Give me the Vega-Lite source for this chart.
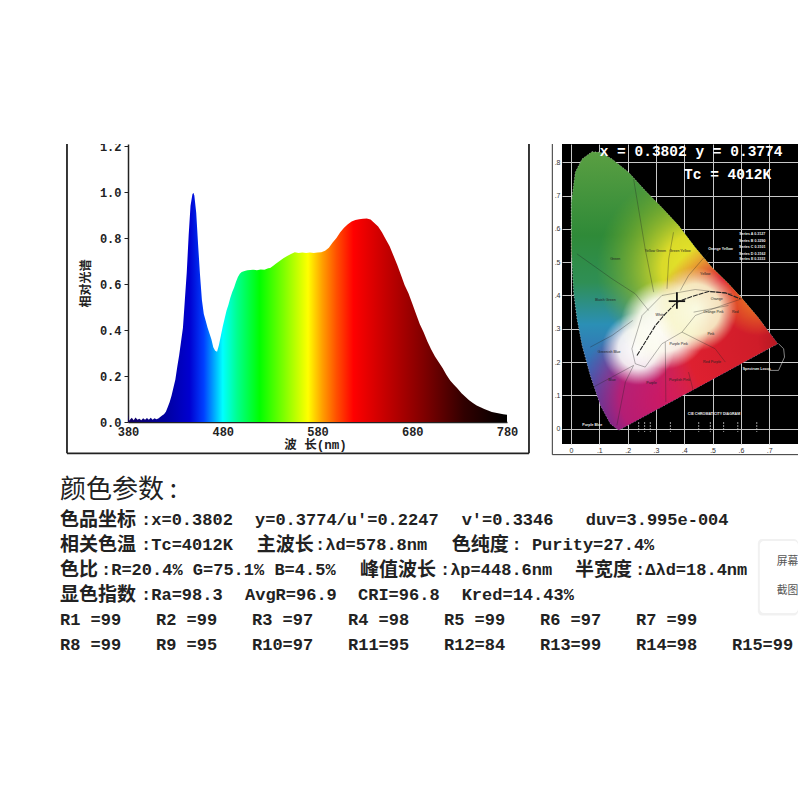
{"$schema":"https://vega.github.io/schema/vega-lite/v6.json","background":"#ffffff","padding":{"left":60,"top":138,"right":0,"bottom":0},"bounds":"flush","align":"each","columns":2,"spacing":{"column":55,"row":10},"config":{"view":{"stroke":null}},
"datasets":{"locus":[{"o":1,"x":0.074,"y":0.832},{"o":2,"x":0.104,"y":0.83},{"o":3,"x":0.145,"y":0.81},{"o":4,"x":0.2035,"y":0.77},{"o":5,"x":0.262,"y":0.715},{"o":6,"x":0.32,"y":0.665},{"o":7,"x":0.38,"y":0.61},{"o":8,"x":0.438,"y":0.545},{"o":9,"x":0.497,"y":0.485},{"o":10,"x":0.556,"y":0.435},{"o":11,"x":0.6,"y":0.395},{"o":12,"x":0.66,"y":0.335},{"o":13,"x":0.73,"y":0.255},{"o":14,"x":0.168,"y":-0.005},{"o":15,"x":0.139,"y":0.015},{"o":16,"x":0.104,"y":0.07},{"o":17,"x":0.068,"y":0.16},{"o":18,"x":0.039,"y":0.25},{"o":19,"x":0.021,"y":0.33},{"o":20,"x":0.009,"y":0.41},{"o":21,"x":0.001,"y":0.53},{"o":22,"x":0.001,"y":0.68},{"o":23,"x":0.015,"y":0.77},{"o":24,"x":0.039,"y":0.81},{"o":25,"x":0.074,"y":0.832}]},
"concat":[
{"width":379,"height":278,"layer":[
{"data":{"values":[{"w":380,"v":0.036},{"w":381,"v":0.005},{"w":384,"v":0.018},{"w":386,"v":0.008},{"w":388,"v":0.02},{"w":390,"v":0.01},{"w":392,"v":0.014},{"w":394,"v":0.008},{"w":396,"v":0.016},{"w":398,"v":0.01},{"w":400,"v":0.017},{"w":402,"v":0.01},{"w":404,"v":0.018},{"w":406,"v":0.01},{"w":408,"v":0.016},{"w":410,"v":0.012},{"w":412,"v":0.015},{"w":414,"v":0.022},{"w":416,"v":0.028},{"w":418,"v":0.034},{"w":420,"v":0.045},{"w":422,"v":0.065},{"w":424,"v":0.087},{"w":426,"v":0.115},{"w":428,"v":0.15},{"w":430,"v":0.185},{"w":432,"v":0.24},{"w":434,"v":0.29},{"w":436,"v":0.35},{"w":438,"v":0.41},{"w":440,"v":0.53},{"w":442,"v":0.65},{"w":444,"v":0.81},{"w":446,"v":0.94},{"w":448,"v":0.99},{"w":449,"v":0.997},{"w":450,"v":0.985},{"w":452,"v":0.91},{"w":454,"v":0.77},{"w":456,"v":0.64},{"w":458,"v":0.53},{"w":460,"v":0.47},{"w":462,"v":0.44},{"w":464,"v":0.41},{"w":466,"v":0.385},{"w":468,"v":0.36},{"w":470,"v":0.325},{"w":472,"v":0.31},{"w":474,"v":0.305},{"w":476,"v":0.335},{"w":478,"v":0.375},{"w":480,"v":0.415},{"w":482,"v":0.45},{"w":484,"v":0.485},{"w":486,"v":0.51},{"w":488,"v":0.54},{"w":490,"v":0.565},{"w":492,"v":0.585},{"w":494,"v":0.61},{"w":496,"v":0.63},{"w":498,"v":0.645},{"w":500,"v":0.652},{"w":503,"v":0.656},{"w":506,"v":0.66},{"w":509,"v":0.661},{"w":512,"v":0.662},{"w":516,"v":0.66},{"w":520,"v":0.663},{"w":524,"v":0.662},{"w":528,"v":0.668},{"w":530,"v":0.67},{"w":533,"v":0.678},{"w":536,"v":0.688},{"w":540,"v":0.7},{"w":544,"v":0.712},{"w":548,"v":0.722},{"w":552,"v":0.73},{"w":556,"v":0.738},{"w":560,"v":0.735},{"w":564,"v":0.737},{"w":568,"v":0.735},{"w":572,"v":0.737},{"w":576,"v":0.735},{"w":580,"v":0.737},{"w":584,"v":0.738},{"w":588,"v":0.745},{"w":592,"v":0.758},{"w":596,"v":0.78},{"w":600,"v":0.8},{"w":604,"v":0.825},{"w":608,"v":0.845},{"w":612,"v":0.86},{"w":616,"v":0.872},{"w":620,"v":0.878},{"w":624,"v":0.882},{"w":628,"v":0.884},{"w":632,"v":0.885},{"w":636,"v":0.88},{"w":640,"v":0.865},{"w":644,"v":0.85},{"w":648,"v":0.825},{"w":652,"v":0.795},{"w":656,"v":0.765},{"w":660,"v":0.725},{"w":664,"v":0.685},{"w":668,"v":0.64},{"w":672,"v":0.595},{"w":676,"v":0.56},{"w":680,"v":0.515},{"w":684,"v":0.47},{"w":688,"v":0.425},{"w":692,"v":0.39},{"w":696,"v":0.35},{"w":700,"v":0.315},{"w":704,"v":0.285},{"w":708,"v":0.26},{"w":712,"v":0.235},{"w":716,"v":0.205},{"w":720,"v":0.18},{"w":724,"v":0.162},{"w":728,"v":0.145},{"w":732,"v":0.125},{"w":736,"v":0.11},{"w":740,"v":0.095},{"w":744,"v":0.083},{"w":748,"v":0.072},{"w":752,"v":0.064},{"w":756,"v":0.056},{"w":760,"v":0.05},{"w":764,"v":0.044},{"w":768,"v":0.04},{"w":772,"v":0.037},{"w":776,"v":0.034},{"w":780,"v":0.032}]},
"mark":{"type":"area","interpolate":"linear","color":{"gradient":"linear","x1":0,"x2":1,"y1":0,"y2":0,"stops":[{"offset":0,"color":"#100060"},{"offset":0.1,"color":"#0000a0"},{"offset":0.1625,"color":"#0000d0"},{"offset":0.2,"color":"#0040ff"},{"offset":0.25,"color":"#00ffff"},{"offset":0.2875,"color":"#00ff90"},{"offset":0.3475,"color":"#00ff00"},{"offset":0.4125,"color":"#80ff00"},{"offset":0.475,"color":"#ffff00"},{"offset":0.5125,"color":"#ffa000"},{"offset":0.55,"color":"#ff5000"},{"offset":0.595,"color":"#ff0000"},{"offset":0.675,"color":"#c80000"},{"offset":0.78,"color":"#800000"},{"offset":0.8875,"color":"#300000"},{"offset":1,"color":"#000000"}]}},
"encoding":{"x":{"field":"w","type":"quantitative","scale":{"domain":[380,780],"nice":false,"zero":false},"axis":{"values":[380,480,580,680,780],"grid":false,"ticks":false,"labelFlush":false,"domainColor":"#222","domainWidth":1.5,"labelFont":"Liberation Mono","labelFontWeight":"bold","labelFontSize":12,"labelColor":"#222","labelPadding":4,"title":"波  长(nm)","titleFont":"Liberation Mono, Noto Sans CJK SC","titleFontSize":12.5,"titleFontWeight":"bold","titleColor":"#222","titlePadding":1,"titleX":187}},
"y":{"field":"v","type":"quantitative","scale":{"domain":[0,1.2087],"nice":false},"axis":{"values":[0,0.2,0.4,0.6,0.8,1,1.2],"format":".1f","grid":false,"tickSize":4,"tickColor":"#222","domainColor":"#222","domainWidth":1.5,"labelFont":"Liberation Mono","labelFontWeight":"bold","labelFontSize":12,"labelColor":"#222","labelPadding":3,"title":"相对光谱","titleFont":"Noto Sans CJK SC","titleFontSize":12,"titleFontWeight":"bold","titleColor":"#222","titlePadding":7}}}},
{"data":{"values":[{"a":315.6,"b":315.6,"c":-0.136,"d":1.2087},{"a":803.2,"b":803.2,"c":-0.136,"d":1.2087},{"a":315.6,"b":803.2,"c":-0.136,"d":-0.136}]},"mark":{"type":"rule","color":"#222","strokeWidth":1.8},"encoding":{"x":{"field":"a","type":"quantitative"},"x2":{"field":"b"},"y":{"field":"c","type":"quantitative"},"y2":{"field":"d"}}},
{"data":{"values":[{"a":350,"b":378,"c":1.2087,"d":1.232}]},"mark":{"type":"rect","fill":"#ffffff"},"encoding":{"x":{"field":"a","type":"quantitative"},"x2":{"field":"b"},"y":{"field":"c","type":"quantitative"},"y2":{"field":"d"}}}
]},
{"width":236,"height":300,"view":{"fill":"#000000","stroke":null},
"encoding":{"x":{"field":"x","type":"quantitative","scale":{"domain":[-0.0318,0.8016],"nice":false,"zero":false},"axis":{"values":[0,0.1,0.2,0.3,0.4,0.5,0.6,0.7],"labelFlush":false,"labelOverlap":false,"labelExpr":"datum.value==0?'0':replace(format(datum.value,'.1f'),'0.','.')","title":null,"grid":true,"gridColor":"#c8c8c8","gridWidth":1,"ticks":false,"domain":false,"labelFontSize":7,"labelColor":"#333","labelPadding":2,"labelFont":"Liberation Sans"}},
"y":{"field":"y","type":"quantitative","scale":{"domain":[-0.046,0.855],"nice":false,"zero":false},"axis":{"values":[0,0.1,0.2,0.3,0.4,0.5,0.6,0.7,0.8],"labelOverlap":false,"labelExpr":"datum.value==0?'0':replace(format(datum.value,'.1f'),'0.','.')","title":null,"grid":true,"gridColor":"#c8c8c8","gridWidth":1,"ticks":false,"domain":false,"labelFontSize":7,"labelColor":"#333","labelPadding":2,"labelFont":"Liberation Sans"}}},
"layer":[
{"data":{"name":"locus"},"mark":{"type":"line","strokeWidth":0.6,"stroke":"#cccccc","strokeDash":[1,2],"fill":{"gradient":"linear","x1":0,"x2":0,"y1":0,"y2":1,"stops":[{"offset":0,"color":"#5a9f42"},{"offset":0.3,"color":"#2f8a38"},{"offset":0.47,"color":"#2f8f55"},{"offset":0.62,"color":"#2b8fb5"},{"offset":0.78,"color":"#3868b5"},{"offset":1,"color":"#4a2f92"}]}},"encoding":{"order":{"field":"o"}}},
{"data":{"name":"locus"},"mark":{"type":"line","stroke":"transparent","fill":{"gradient":"radial","x1":0.58,"y1":0.42,"r1":0,"x2":0.58,"y2":0.42,"r2":0.36,"stops":[{"offset":0,"color":"rgba(238,232,40,1)"},{"offset":0.35,"color":"rgba(226,222,40,0.95)"},{"offset":0.7,"color":"rgba(150,185,40,0.55)"},{"offset":1,"color":"rgba(120,170,40,0)"}]}},"encoding":{"order":{"field":"o"}}},
{"data":{"name":"locus"},"mark":{"type":"line","stroke":"transparent","fill":{"gradient":"radial","x1":0.48,"y1":0.88,"r1":0,"x2":0.48,"y2":0.88,"r2":0.32,"stops":[{"offset":0,"color":"rgba(208,24,96,1)"},{"offset":0.55,"color":"rgba(200,24,110,0.85)"},{"offset":1,"color":"rgba(160,30,140,0)"}]}},"encoding":{"order":{"field":"o"}}},
{"data":{"name":"locus"},"mark":{"type":"line","stroke":"transparent","fill":{"gradient":"radial","x1":0.82,"y1":0.68,"r1":0,"x2":0.82,"y2":0.68,"r2":0.42,"stops":[{"offset":0,"color":"rgba(205,28,40,1)"},{"offset":0.65,"color":"rgba(222,32,48,1)"},{"offset":1,"color":"rgba(225,40,70,0)"}]}},"encoding":{"order":{"field":"o"}}},
{"data":{"name":"locus"},"mark":{"type":"line","stroke":"transparent","fill":{"gradient":"radial","x1":0.8,"y1":0.52,"r1":0,"x2":0.8,"y2":0.52,"r2":0.14,"stops":[{"offset":0,"color":"rgba(240,140,30,0.9)"},{"offset":1,"color":"rgba(240,160,30,0)"}]}},"encoding":{"order":{"field":"o"}}},
{"data":{"name":"locus"},"mark":{"type":"line","stroke":"transparent","fill":{"gradient":"radial","x1":1,"y1":0.68,"r1":0,"x2":1,"y2":0.68,"r2":0.2,"stops":[{"offset":0,"color":"rgba(130,15,20,0.95)"},{"offset":1,"color":"rgba(130,15,20,0)"}]}},"encoding":{"order":{"field":"o"}}},
{"data":{"name":"locus"},"mark":{"type":"line","stroke":"transparent","fill":{"gradient":"radial","x1":0.37,"y1":0.707,"r1":0,"x2":0.37,"y2":0.707,"r2":0.13,"stops":[{"offset":0,"color":"rgba(255,255,255,1)"},{"offset":0.55,"color":"rgba(250,252,250,0.9)"},{"offset":1,"color":"rgba(245,250,250,0)"}]}},"encoding":{"order":{"field":"o"}}},
{"data":{"name":"locus"},"mark":{"type":"line","stroke":"transparent","fill":{"gradient":"radial","x1":0.466,"y1":0.62,"r1":0,"x2":0.466,"y2":0.62,"r2":0.16,"stops":[{"offset":0,"color":"rgba(255,255,250,1)"},{"offset":0.6,"color":"rgba(252,252,240,0.92)"},{"offset":1,"color":"rgba(250,250,235,0)"}]}},"encoding":{"order":{"field":"o"}}},
{"data":{"name":"locus"},"mark":{"type":"line","stroke":"transparent","fill":{"gradient":"radial","x1":0.575,"y1":0.565,"r1":0,"x2":0.575,"y2":0.565,"r2":0.15,"stops":[{"offset":0,"color":"rgba(250,250,225,1)"},{"offset":0.6,"color":"rgba(248,246,205,0.9)"},{"offset":1,"color":"rgba(245,240,190,0)"}]}},"encoding":{"order":{"field":"o"}}},
{"data":{"values":[{"l":"b1","o":1,"x":0.021,"y":0.525},{"l":"b1","o":2,"x":0.145,"y":0.45},{"l":"b1","o":3,"x":0.227,"y":0.405},{"l":"b1","o":4,"x":0.274,"y":0.355},{"l":"b2","o":1,"x":0.068,"y":0.245},{"l":"b2","o":2,"x":0.145,"y":0.28},{"l":"b2","o":3,"x":0.218,"y":0.325},{"l":"b3","o":1,"x":0.215,"y":0.24},{"l":"b3","o":2,"x":0.251,"y":0.34},{"l":"b3","o":3,"x":0.321,"y":0.4},{"l":"b3","o":4,"x":0.439,"y":0.418},{"l":"b3","o":5,"x":0.568,"y":0.405},{"l":"b4","o":1,"x":0.215,"y":0.24},{"l":"b4","o":2,"x":0.227,"y":0.195},{"l":"b4","o":3,"x":0.262,"y":0.185},{"l":"b4","o":4,"x":0.321,"y":0.255},{"l":"b4","o":5,"x":0.392,"y":0.29},{"l":"b4","o":6,"x":0.439,"y":0.34},{"l":"b4","o":7,"x":0.533,"y":0.37},{"l":"b4","o":8,"x":0.603,"y":0.39},{"l":"b5","o":1,"x":0.362,"y":0.59},{"l":"b5","o":2,"x":0.345,"y":0.51},{"l":"b5","o":3,"x":0.339,"y":0.42},{"l":"b6","o":1,"x":0.486,"y":0.53},{"l":"b6","o":2,"x":0.415,"y":0.46},{"l":"b6","o":3,"x":0.386,"y":0.415},{"l":"b7","o":1,"x":0.221,"y":0.75},{"l":"b7","o":2,"x":0.262,"y":0.54},{"l":"b7","o":3,"x":0.292,"y":0.41},{"l":"b8","o":1,"x":0.221,"y":0.19},{"l":"b8","o":2,"x":0.192,"y":0.14},{"l":"b8","o":3,"x":0.162,"y":0.01},{"l":"b9","o":1,"x":0.333,"y":0.26},{"l":"b9","o":2,"x":0.335,"y":0.08},{"l":"b10","o":1,"x":0.415,"y":0.17},{"l":"b10","o":2,"x":0.433,"y":0.11},{"l":"b11","o":1,"x":0.392,"y":0.29},{"l":"b11","o":2,"x":0.509,"y":0.24},{"l":"b11","o":3,"x":0.545,"y":0.2},{"l":"b12","o":1,"x":0.433,"y":0.35},{"l":"b12","o":2,"x":0.556,"y":0.37},{"l":"b13","o":1,"x":0.068,"y":0.12},{"l":"b13","o":2,"x":0.221,"y":0.19}]},"mark":{"type":"line","stroke":"#222222","strokeWidth":0.6,"opacity":0.55},"encoding":{"detail":{"field":"l"},"order":{"field":"o"}}},
{"data":{"values":[{"o":1,"x":0.233,"y":0.22},{"o":2,"x":0.298,"y":0.31},{"o":3,"x":0.333,"y":0.345},{"o":4,"x":0.374,"y":0.38},{"o":5,"x":0.427,"y":0.397},{"o":6,"x":0.486,"y":0.412},{"o":7,"x":0.545,"y":0.408},{"o":8,"x":0.598,"y":0.39}]},"mark":{"type":"line","stroke":"#222222","strokeWidth":1.1,"strokeDash":[5,1]},"encoding":{"order":{"field":"o"}}},
{"data":{"values":[{"x":0.345,"x2":0.403,"y":0.383,"y2":0.383},{"x":0.374,"x2":0.374,"y":0.41,"y2":0.36}]},"mark":{"type":"rule","color":"#111111","strokeWidth":1.8},"encoding":{"x2":{"field":"x2"},"y2":{"field":"y2"}}},
{"data":{"values":[{"x":0.239,"y":0.02,"y2":-0.01},{"x":0.26,"y":0.02,"y2":-0.01},{"x":0.28,"y":0.02,"y2":-0.01},{"x":0.351,"y":0.02,"y2":-0.01},{"x":0.451,"y":0.02,"y2":-0.01},{"x":0.492,"y":0.02,"y2":-0.01},{"x":0.539,"y":0.02,"y2":-0.01},{"x":0.589,"y":0.02,"y2":-0.01},{"x":0.656,"y":0.02,"y2":-0.01}]},"mark":{"type":"rule","color":"#dddddd","strokeWidth":0.7,"strokeDash":[2,1]},"encoding":{"y2":{"field":"y2"}}},
{"data":{"values":[{"o":1,"x":0.733,"y":0.255},{"o":2,"x":0.751,"y":0.24},{"o":3,"x":0.754,"y":0.215},{"o":4,"x":0.733,"y":0.175},{"o":5,"x":0.698,"y":0.175}]},"mark":{"type":"line","stroke":"#dddddd","strokeWidth":0.6},"encoding":{"order":{"field":"o"}}},
{"data":{"values":[{"x":0.424,"y":0.83,"t":"x = 0.3802 y = 0.3774"},{"x":0.553,"y":0.762,"t":"Tc = 4012K"}]},"mark":{"type":"text","font":"Liberation Mono","fontWeight":"bold","fontSize":14.5,"color":"#ffffff"},"encoding":{"text":{"field":"t"}}},
{"data":{"values":[{"x":0.64,"y":0.585,"t":"Series A  0.3127"},{"x":0.64,"y":0.565,"t":"Series B  0.3290"},{"x":0.64,"y":0.545,"t":"Series C  0.3101"},{"x":0.64,"y":0.525,"t":"Series D  0.3162"},{"x":0.64,"y":0.51,"t":"Series E  0.3333"},{"x":0.505,"y":0.045,"t":"CIE CHROMATICITY DIAGRAM"},{"x":0.656,"y":0.18,"t":"Spectrum Locus"},{"x":0.528,"y":0.54,"t":"Orange Yellow"},{"x":0.075,"y":0.012,"t":"Purple Blue"}]},"mark":{"type":"text","fontSize":3.6,"font":"Liberation Sans","fontWeight":"bold","color":"#eeeeee"},"encoding":{"text":{"field":"t"}}},
{"data":{"values":[{"x":0.298,"y":0.533,"t":"Yellow Green"},{"x":0.385,"y":0.533,"t":"Green Yellow"},{"x":0.156,"y":0.51,"t":"Green"},{"x":0.121,"y":0.385,"t":"Bluish Green"},{"x":0.135,"y":0.23,"t":"Greenish Blue"},{"x":0.145,"y":0.147,"t":"Blue"},{"x":0.284,"y":0.138,"t":"Purple"},{"x":0.383,"y":0.145,"t":"Purplish Pink"},{"x":0.498,"y":0.2,"t":"Red Purple"},{"x":0.494,"y":0.285,"t":"Pink"},{"x":0.38,"y":0.255,"t":"Purple Pink"},{"x":0.503,"y":0.35,"t":"Orange Pink"},{"x":0.515,"y":0.39,"t":"Orange"},{"x":0.474,"y":0.465,"t":"Yellow"},{"x":0.58,"y":0.35,"t":"Red"},{"x":0.315,"y":0.34,"t":"White"}]},"mark":{"type":"text","fontSize":3.6,"font":"Liberation Sans","color":"#222222"},"encoding":{"text":{"field":"t"}}},
{"data":{"values":[{"x":-0.066,"x2":-0.066,"y":-0.078,"y2":0.855},{"x":-0.066,"x2":0.8016,"y":-0.078,"y2":-0.078}]},"mark":{"type":"rule","color":"#333333","strokeWidth":1},"encoding":{"x2":{"field":"x2"},"y2":{"field":"y2"}}}
]},
{"width":379,"height":345,"layer":[
{"data":{"values":[{"a":72.7,"b":76.875,"c":0.76,"d":3.82}]},"mark":{"type":"rect","fill":"#e8e8e8","opacity":0.6,"cornerRadius":4},"encoding":{"x":{"field":"a","type":"quantitative","scale":{"domain":[7.0833,46.5625],"nice":false,"zero":false},"axis":null},"x2":{"field":"b"},"y":{"field":"c","type":"quantitative","scale":{"domain":[11.16,-2.64],"nice":false,"zero":false},"axis":null},"y2":{"field":"d"}}},
{"data":{"values":[{"a":72.9,"b":76.875,"c":0.84,"d":3.72}]},"mark":{"type":"rect","fill":"#ffffff","cornerRadius":4},"encoding":{"x":{"field":"a","type":"quantitative"},"x2":{"field":"b"},"y":{"field":"c","type":"quantitative"},"y2":{"field":"d"}}},
{"data":{"values":[{"x":0,"y":-1.2,"t":"颜色参数 :"}]},"mark":{"type":"text","align":"left","baseline":"middle","font":"Noto Sans CJK SC","fontSize":26,"color":"#222222"},"encoding":{"x":{"field":"x","type":"quantitative"},"y":{"field":"y","type":"quantitative"},"text":{"field":"t"}}},
{"data":{"values":[{"x":0,"y":0,"t":"色品坐标"},{"x":0,"y":1,"t":"相关色温"},{"x":20.49,"y":1,"t":"主波长"},{"x":40.8,"y":1,"t":"色纯度"},{"x":0,"y":2,"t":"色比"},{"x":31.25,"y":2,"t":"峰值波长"},{"x":53.65,"y":2,"t":"半宽度"},{"x":0,"y":3,"t":"显色指数"}]},"mark":{"type":"text","align":"left","baseline":"middle","font":"Noto Sans CJK SC","fontWeight":"bold","fontSize":19,"color":"#222222"},"encoding":{"x":{"field":"x","type":"quantitative"},"y":{"field":"y","type":"quantitative"},"text":{"field":"t"}}},
{"data":{"values":[{"x":8.44,"y":0,"t":":x=0.3802"},{"x":20.31,"y":0,"t":"y=0.3774/u'=0.2247"},{"x":41.84,"y":0,"t":"v'=0.3346"},{"x":54.76,"y":0,"t":"duv=3.995e-004"},{"x":8.44,"y":1,"t":":Tc=4012K"},{"x":26.56,"y":1,"t":":λd=578.8nm"},{"x":47.03,"y":1,"t":": Purity=27.4%"},{"x":4.27,"y":2,"t":":R=20.4% G=75.1% B=4.5%"},{"x":39.58,"y":2,"t":":λp=448.6nm"},{"x":59.9,"y":2,"t":":Δλd=18.4nm"},{"x":8.44,"y":3,"t":":Ra=98.3"},{"x":19.27,"y":3,"t":"AvgR=96.9"},{"x":31.04,"y":3,"t":"CRI=96.8"},{"x":41.84,"y":3,"t":"Kred=14.43%"},{"x":0,"y":4,"t":"R1 =99"},{"x":10,"y":4,"t":"R2 =99"},{"x":20,"y":4,"t":"R3 =97"},{"x":30,"y":4,"t":"R4 =98"},{"x":40,"y":4,"t":"R5 =99"},{"x":50,"y":4,"t":"R6 =97"},{"x":60,"y":4,"t":"R7 =99"},{"x":0,"y":5,"t":"R8 =99"},{"x":10,"y":5,"t":"R9 =95"},{"x":20,"y":5,"t":"R10=97"},{"x":30,"y":5,"t":"R11=95"},{"x":40,"y":5,"t":"R12=84"},{"x":50,"y":5,"t":"R13=99"},{"x":60,"y":5,"t":"R14=98"},{"x":70,"y":5,"t":"R15=99"}]},"mark":{"type":"text","align":"left","baseline":"middle","font":"Liberation Mono","fontWeight":"bold","fontSize":17,"color":"#222222"},"encoding":{"x":{"field":"x","type":"quantitative"},"y":{"field":"y","type":"quantitative"},"text":{"field":"t"}}},
{"data":{"values":[{"x":74.65,"y":1.68,"t":"屏幕"},{"x":74.65,"y":2.84,"t":"截图"}]},"mark":{"type":"text","align":"left","baseline":"middle","font":"Noto Sans CJK SC","fontSize":10.8,"color":"#555555"},"encoding":{"x":{"field":"x","type":"quantitative"},"y":{"field":"y","type":"quantitative"},"text":{"field":"t"}}}
]}
]}
